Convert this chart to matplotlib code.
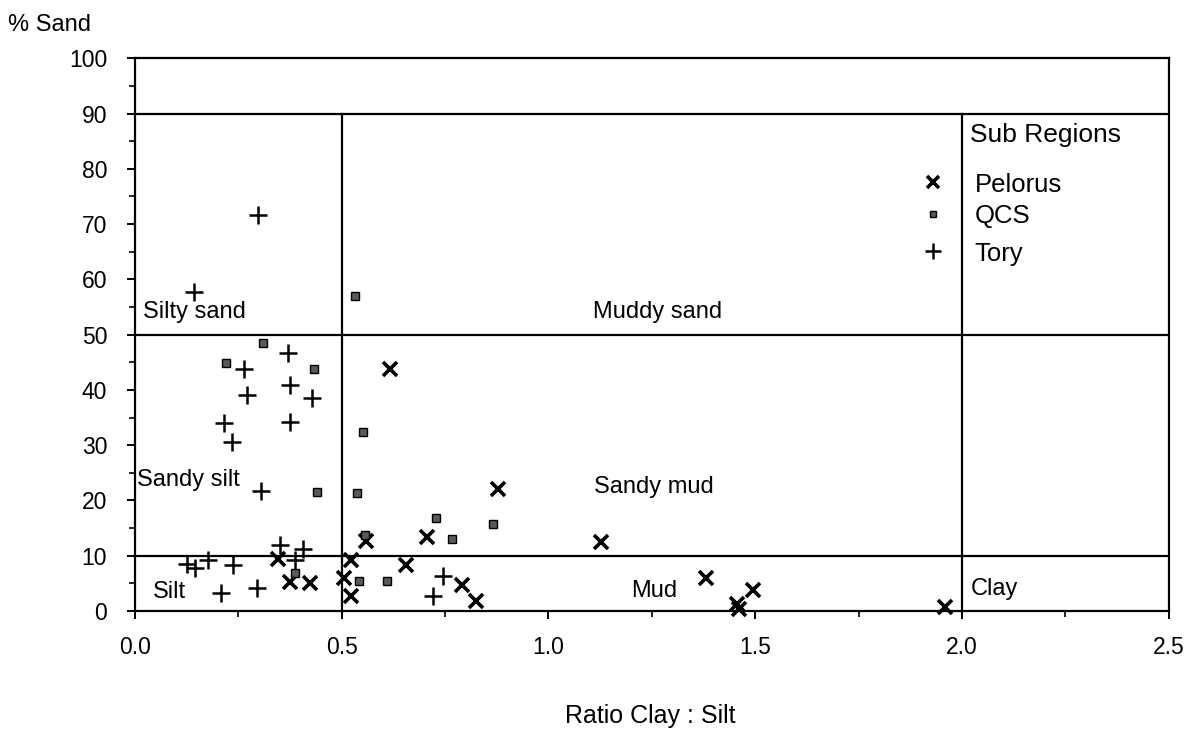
import matplotlib
matplotlib.use("Agg")
import matplotlib.pyplot as plt
from matplotlib.ticker import MultipleLocator

plt.rcParams['font.family'] = ['Liberation Sans', 'DejaVu Sans']

# Sediment samples: ratio clay:silt vs % sand, by sub region
pelorus_x = [0.616, 0.879, 0.558, 0.707, 0.523, 0.656, 0.506, 0.522, 0.790, 0.824,
             0.345, 0.374, 0.423, 1.126, 1.381, 1.495, 1.455, 1.460, 1.960]
pelorus_y = [43.8, 22.1, 12.6, 13.4, 9.3, 8.3, 5.9, 2.7, 4.7, 1.9,
             9.5, 5.3, 5.0, 12.5, 6.0, 3.8, 1.2, 0.3, 0.7]

qcs_x = [0.531, 0.310, 0.219, 0.433, 0.551, 0.440, 0.537, 0.727, 0.867, 0.766,
         0.557, 0.388, 0.541, 0.610]
qcs_y = [57.0, 48.5, 44.8, 43.7, 32.3, 21.6, 21.3, 16.8, 15.7, 13.0,
         13.8, 6.8, 5.5, 5.5]

tory_x = [0.297, 0.143, 0.369, 0.263, 0.374, 0.272, 0.427, 0.215, 0.374, 0.234,
          0.306, 0.350, 0.407, 0.388, 0.126, 0.145, 0.177, 0.236, 0.209, 0.294,
          0.746, 0.721]
tory_y = [71.6, 57.8, 46.7, 43.8, 40.9, 39.1, 38.5, 34.0, 34.2, 30.5,
          21.8, 11.9, 11.3, 9.3, 8.5, 7.8, 9.2, 8.3, 3.3, 4.1,
          6.4, 2.7]

# Classification boundaries
sand_limits = [10, 50, 90]
ratio_limits = [0.5, 2.0]
region_labels = [
    ("Silty sand", 0.02, 54.1),
    ("Muddy sand", 1.107, 54.1),
    ("Sandy silt", 0.005, 23.7),
    ("Sandy mud", 1.11, 22.4),
    ("Silt", 0.043, 3.4),
    ("Mud", 1.20, 3.6),
    ("Clay", 2.02, 4.0),
]

fig = plt.figure(figsize=(11.89, 7.47), dpi=100)
ax = fig.add_axes([0.1135, 0.182, 0.8695, 0.740])
ax.set_xlim(0, 2.5)
ax.set_ylim(0, 100)

lw = 1.6
for s in ax.spines.values():
    s.set_linewidth(lw)
for y in sand_limits:
    ax.axhline(y, color='black', lw=lw, zorder=1)
for x in ratio_limits:
    ax.plot([x, x], [0, 90], color='black', lw=lw, zorder=1)

for txt, x, y in region_labels:
    ax.text(x, y, txt, fontsize=17, ha='left', va='center')

mk = dict(linestyle='none', clip_on=False, zorder=3)
ax.plot(pelorus_x, pelorus_y, marker='x', color='black', markersize=10, mew=2.6, **mk)
ax.plot(qcs_x, qcs_y, marker='s', markersize=6, markerfacecolor='#5a5a5a',
        markeredgecolor='black', mew=1.0, **mk)
ax.plot(tory_x, tory_y, marker='+', color='black', markersize=13, mew=1.8, **mk)

# Legend block in the upper-right cell
ax.text(2.02, 86.1, "Sub Regions", fontsize=19, ha='left', va='center')
ax.plot([1.93], [77.6], marker='x', color='black', markersize=8, mew=2.6, **mk)
ax.plot([1.93], [71.8], marker='s', markersize=5, markerfacecolor='#5a5a5a',
        markeredgecolor='black', mew=1.0, **mk)
ax.plot([1.93], [65.1], marker='+', color='black', markersize=11, mew=1.8, **mk)
ax.text(2.03, 77.0, "Pelorus", fontsize=18.5, ha='left', va='center')
ax.text(2.03, 71.4, "QCS", fontsize=18.5, ha='left', va='center')
ax.text(2.03, 64.6, "Tory", fontsize=18.5, ha='left', va='center')

ax.xaxis.set_major_locator(MultipleLocator(0.5))
ax.xaxis.set_minor_locator(MultipleLocator(0.25))
ax.yaxis.set_major_locator(MultipleLocator(10))
ax.yaxis.set_minor_locator(MultipleLocator(5))
ax.tick_params(axis='both', which='major', direction='out', length=6, width=1.4,
               labelsize=16.5)
ax.tick_params(axis='x', which='major', pad=12)
ax.tick_params(axis='y', which='major', pad=14)
ax.tick_params(axis='both', which='minor', direction='out', length=4, width=1.2)
ax.set_xticks([0, 0.5, 1.0, 1.5, 2.0, 2.5])
ax.set_xticklabels(["0.0", "0.5", "1.0", "1.5", "2.0", "2.5"])

fig.text(0.007, 0.966, "% Sand", fontsize=17, ha='left', va='center')
fig.text(0.547, 0.041, "Ratio Clay : Silt", fontsize=18, ha='center', va='center')

fig.savefig("out.png", dpi=100)
